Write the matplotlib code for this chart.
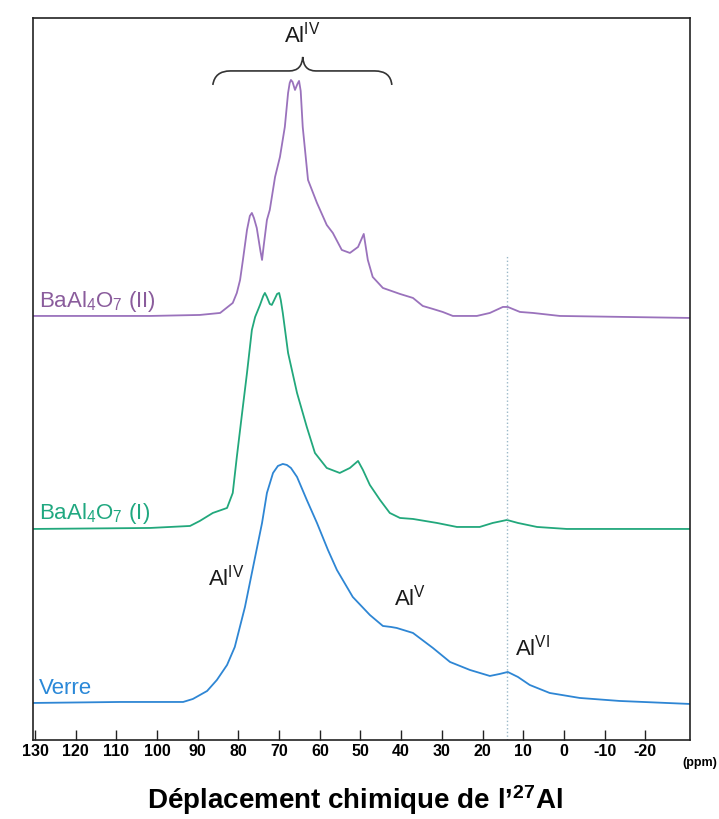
import matplotlib
matplotlib.use("Agg")
import matplotlib.pyplot as plt
from matplotlib.path import Path
from matplotlib.patches import PathPatch

plt.rcParams['font.family'] = ['Liberation Sans', 'DejaVu Sans']
plt.rcParams['mathtext.fontset'] = 'custom'
plt.rcParams['mathtext.rm'] = 'Liberation Sans'
plt.rcParams['mathtext.bf'] = 'Liberation Sans:bold'
plt.rcParams['mathtext.default'] = 'regular'

# 27Al spectra, chemical shift (ppm) and intensity above each baseline (arb. units)
verre_ppm = [130.5, 109.1, 93.6, 91.2, 87.7, 85.3, 82.8, 80.9, 78.4, 76.4, 74.2, 73.0,
             71.5, 70.3, 69.1, 68.1, 67.1, 65.6, 63.2, 60.7, 58.0, 55.8, 51.9, 47.7,
             44.5, 42.5, 41.1, 37.1, 32.2, 28.0, 23.1, 18.2, 15.8, 13.8, 11.3, 8.4,
             3.5, -3.9, -13.7, -31.0]
verre_int = [0, 1, 1, 4, 12, 23, 38, 56, 96, 136, 180, 210,
             230, 237, 239, 238, 235, 226, 203, 180, 153, 133, 106, 88,
             77, 76, 75, 70, 55, 41, 33, 27, 29, 31, 26, 18,
             10, 5, 2, -1]

ba1_ppm = [130.5, 101.7, 91.9, 89.5, 86.3, 82.8, 81.4, 80.4, 79.1, 77.9, 76.7, 75.9,
           74.7, 73.9, 73.5, 73.0, 72.3, 71.8, 71.2, 70.5, 70.0, 69.6, 69.1, 67.8,
           65.6, 63.2, 61.2, 58.3, 55.1, 52.6, 50.6, 49.4, 47.7, 45.2, 42.8, 40.3,
           37.1, 31.2, 26.3, 20.7, 17.5, 14.0, 11.3, 6.6, -0.7, -31.0]
ba1_int = [-1, 0, 2, 7, 15, 20, 35, 71, 115, 155, 198, 211,
           223, 232, 235, 231, 224, 223, 228, 234, 235, 228, 215, 175,
           135, 101, 75, 60, 55, 60, 67, 58, 43, 28, 15, 10,
           9, 5, 1, 1, 5, 8, 5, 1, -1, -1]

ba2_ppm = [130.5, 101.7, 89.5, 84.5, 81.4, 80.4, 79.6, 78.9, 77.9, 77.2, 76.7, 76.2,
           75.5, 74.6, 74.2, 73.8, 73.0, 72.3, 71.0, 69.8, 68.6, 67.8, 67.4, 67.1,
           66.7, 66.1, 65.5, 65.1, 64.7, 64.2, 62.9, 60.7, 58.3, 56.8, 54.6, 52.6,
           50.6, 49.2, 48.2, 47.0, 44.5, 40.3, 37.1, 34.7, 32.2, 29.8, 27.3, 21.4,
           18.2, 15.0, 13.8, 10.8, 7.6, 1.0, -31.0]
ba2_int = [0, 0, 1, 3, 13, 23, 36, 56, 86, 100, 103, 98,
           88, 65, 56, 70, 96, 106, 139, 159, 189, 223, 233, 236,
           234, 226, 232, 235, 225, 189, 136, 113, 91, 83, 66, 63,
           69, 82, 56, 39, 28, 22, 18, 10, 7, 4, 0, 0,
           3, 9, 9, 4, 3, 0, -2]

offsets = [37, 212, 424]
names = ['Verre', r'BaAl$_4$O$_7$ (I)', r'BaAl$_4$O$_7$ (II)']
colors = ['#2e86d4', '#22a87c', '#9a72bc']
label_colors = ['#2a88d8', '#20a880', '#8a5c9c']

ticks = [130, 120, 110, 100, 90, 80, 70, 60, 50, 40, 30, 20, 10, 0, -10, -20]
al_vi_ppm = 14

fig = plt.figure(figsize=(7.19, 8.19), dpi=100)
ax = fig.add_axes([0.0459, 0.0965, 0.9138, 0.8816])

series = [(verre_ppm, verre_int), (ba1_ppm, ba1_int), (ba2_ppm, ba2_int)]
for (x, y), off, c, name, lc in zip(series, offsets, colors, names, label_colors):
    ax.plot(x, [v + off for v in y], color=c, lw=1.3)
    ax.text(129.1, off + 9, name, color=lc, fontsize=16, ha='left', va='baseline')

ax.axvline(al_vi_ppm, ymin=0, ymax=485 / 722, color='#9ab8c8', lw=1.0, ls=':')

# brace over the Al(IV) region of BaAl4O7 (II)
verts = [(86.3, 655), (85.8, 669), (82.0, 669), (67.5, 669), (64.4, 669), (64.2, 683),
         (64.0, 669), (61.0, 669), (46.5, 669), (42.6, 669), (42.3, 655)]
codes = [Path.MOVETO, Path.CURVE3, Path.CURVE3, Path.LINETO, Path.CURVE3, Path.CURVE3,
         Path.CURVE3, Path.CURVE3, Path.LINETO, Path.CURVE3, Path.CURVE3]
ax.add_patch(PathPatch(Path(verts, codes), fill=False, edgecolor='#333333', lw=1.2))
ax.text(64.2, 692, r'Al$^{IV}$', fontsize=16, ha='center', va='bottom', color='#1a1a1a')

ax.text(83.1, 162, r'Al$^{IV}$', fontsize=16, ha='center', va='center', color='#1a1a1a')
ax.text(37.9, 142, r'Al$^{V}$', fontsize=16, ha='center', va='center', color='#1a1a1a')
ax.text(7.6, 92, r'Al$^{VI}$', fontsize=16, ha='center', va='center', color='#1a1a1a')

ax.set_xlim(130.5, -31)
ax.set_ylim(0, 722)
ax.set_yticks([])
ax.set_xticks(ticks)
ax.set_xticklabels([str(t) for t in ticks], fontsize=11.5, fontweight='bold')
ax.tick_params(axis='x', direction='in', length=7, width=1, pad=3, color='#222222')
for s in ax.spines.values():
    s.set_color('#222222')
    s.set_linewidth(1.2)

fig.text(717 / 719, 1 - 763 / 819, '(ppm)', fontsize=9, fontweight='bold',
         ha='right', va='center')
fig.text(355 / 719, 1 - 800 / 819, r'Déplacement chimique de l’$^{\mathbf{27}}$Al',
         fontsize=20, fontweight='bold', ha='center', va='center')

fig.savefig('out.png', dpi=100)
